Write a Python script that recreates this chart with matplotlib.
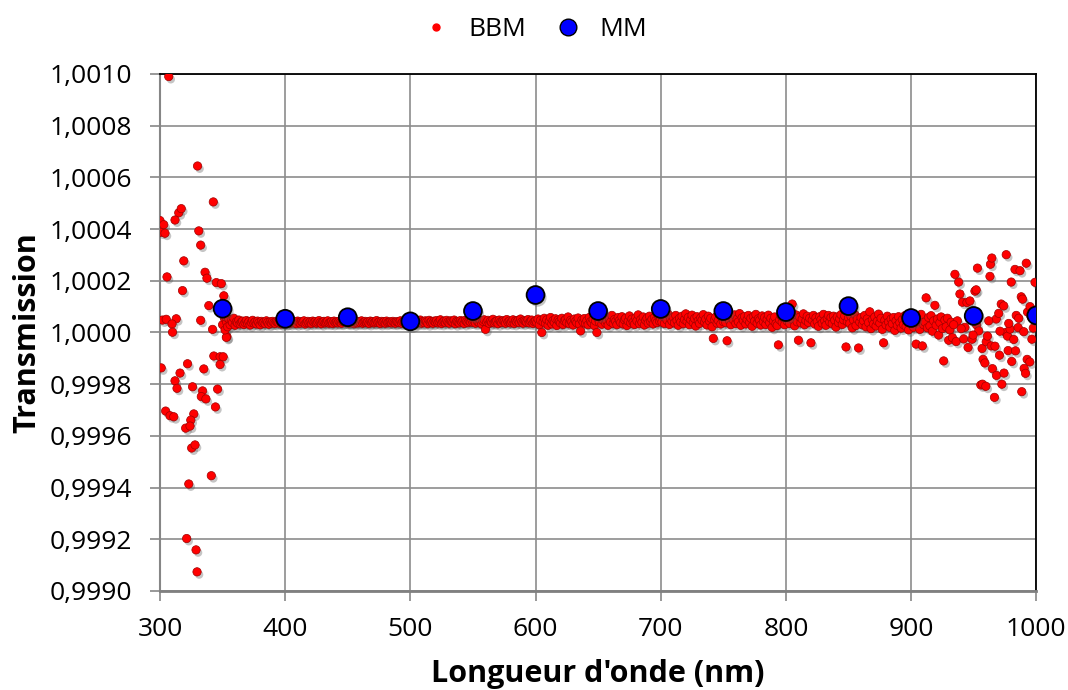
import numpy as np
import matplotlib
matplotlib.use("Agg")
import matplotlib.pyplot as plt
import matplotlib.patheffects as pe
from matplotlib.ticker import FuncFormatter, MultipleLocator

plt.rcParams['font.family'] = ['Open Sans', 'DejaVu Sans']

# BBM, noisy start of the spectrum (wavelength nm, offset from 1 in ppm)
bbm_head_wl = [300, 301, 303, 304, 307, 315, 317, 312, 330, 342.6, 331, 332.5, 319, 305.6,
               336, 337.5, 345, 349, 318, 351, 339, 302, 305, 313, 309.6, 332.5, 310, 342,
               353.5, 353, 343, 348, 350.5, 348, 301, 322, 335, 316, 312, 313.6, 326, 334,
               346, 333, 336.7, 344.3, 304.5, 308, 311, 327, 324.6, 320.5, 324, 325.3, 328,
               341, 323, 321.3, 328.8, 329.6, 350, 351.5, 352, 353.2, 354, 352.6]
bbm_head_val = [433, 388, 417, 384, 990, 463, 479, 435, 644, 505, 393, 338, 277, 215,
                233, 210, 193, 189, 162, 142, 104, 48, 51, 53, 33, 47, 1, 12,
                -16, -19, -91, -94, -94, -124, -137, -121, -141, -157, -187, -216, -210, -226,
                -219, -248, -257, -288, -304, -322, -326, -315, -339, -370, -362, -447, -435,
                -554, -586, -797, -841, -926, 30, 55, 10, 40, 22, 60]

# BBM, dense band, one point per nm from 355 to 930 (ppm above 1)
bbm_band_start = 355
bbm_band_val = [
    52, 30, 45, 38, 55, 28, 41, 36, 48, 33,   # 355
    40, 44, 31, 38, 46, 35, 42, 29, 39, 47,
    36, 41, 33, 44, 38, 30, 43, 37, 40, 34,
    45, 39, 32, 41, 36, 43, 38, 35, 42, 40,
    37, 44, 33, 39, 41, 36,                   # -> 400
    42, 38, 45, 35, 40, 43, 37, 41, 34, 44,   # 401
    39, 36, 42, 40, 45, 33, 38, 43, 37, 41,
    35, 44, 39, 42, 36, 40, 46, 38, 34, 41,
    43, 37, 40, 45, 36, 39, 42, 35, 44, 38,
    41, 37, 43, 39, 36, 42, 40, 45, 38, 41,
    36, 43, 39, 41, 34, 40, 44, 37, 42, 38,   # 451
    45, 36, 40, 43, 38, 41, 35, 44, 39, 42,
    37, 40, 46, 38, 41, 35, 43, 39, 42, 36,
    44, 38, 40, 41, 37, 43, 39, 36, 42, 40,
    38, 45, 36, 41, 39, 43, 37, 40, 42, 38,
    43, 37, 46, 40, 35, 44, 39, 48, 36, 42,   # 501
    38, 45, 41, 34, 47, 39, 43, 36, 44, 40,
    46, 37, 42, 49, 35, 41, 44, 38, 47, 40,
    36, 45, 42, 39, 48, 34, 43, 41, 37, 46,
    40, 44, 35, 47, 42, 38, 45, 41, 50, 39,
    44, 36, 48, 41, 38, 46, 33, 43, 49, 12,   # 551
    40, 47, 35, 44, 39, 51, 37, 42, 45, 34,
    48, 41, 38, 46, 43, 36, 50, 40, 44, 37,
    42, 49, 35, 45, 40, 47, 38, 52, 41, 36,
    46, 43, 39, 50, 37, 44, 48, 35, 42, 45,
    38, 52, 30, 47, 0, 41, 55, 35, 49, 28,    # 601
    44, 58, 33, 46, 39, 53, 27, 48, 42, 36,
    55, 31, 45, 50, 38, 60, 34, 47, 41, 29,
    52, 43, 37, 56, 32, 6, 48, 40, 54, 35,
    46, 30, 58, 42, 37, 51, 27, 44, 0, 53,
    39, 57, 32, 48, 62, 36, 44, 28, 53, 41,   # 651
    66, 35, 50, 43, 30, 58, 46, 38, 61, 33,
    49, 55, 27, 44, 64, 37, 52, 40, 31, 57,
    45, 68, 34, 50, 39, 60, 29, 47, 55, 36,
    63, 42, 51, 33, 58, 46, 38, 65, 44, 53,
    40, 62, 35, 56, 48, 70, 31, 52, 44, 59,   # 701
    37, 66, 46, 28, 55, 41, 63, 34, 50, 72,
    43, 58, 30, 49, 67, 38, 54, 25, 61, 45,
    35, 57, 48, 69, 40, 52, 29, 63, 44, 55,
    22, -23, 50, 60, 36, 47, 71, 33, 58, 42,
    56, 38, -32, 64, 45, 30, 59, 49, 68, 35,  # 751
    52, 41, 73, 28, 57, 46, 62, 33, 50, 66,
    39, 55, 24, 61, 44, 70, 36, 53, 47, 29,
    64, 42, 58, 31, 51, 67, 38, 55, 20, 45,
    60, 34, 27, -48, 49, 65, 40, 56, 30, 53,
    44, 62, 35, 57, 110, 48, 26, 68, 41, -30, # 801
    59, 37, 52, 72, 30, 46, 63, 39, 55, -40,
    48, 66, 33, 57, 42, 24, 61, 50, 36, 70,
    45, 28, 55, 66, 40, 58, 34, 63, 47, 21,
    60, 38, 53, 69, 31, 49, 64, -56, 42, 57,
    35, 62, 18, 48, 70, 27, 52, -60, 40, 58,  # 851
    30, 45, 66, 22, 53, 38, 80, 15, 49, 33,
    60, 25, 44, 71, 36, 55, 12, -40, 47, 29,
    63, 40, 20, 52, 34, 58, 8, 45, 27, 61,
    38, 17, 50, 30, 65, 23, 42, 10, 54, 35,
    48, 20, 62, -45, 35, 55, 12, 70, -52, 30, # 901
    40, 134, 18, 58, 25, 65, 5, 45, 105, 28,
    52, -10, 38, 60, 15, -110, 48, 22, 55, -30,
]

# BBM, noisy end of the spectrum
bbm_tail_wl = [931, 932, 933, 935, 936, 937, 938, 939, 941, 942, 943, 944.6, 945.5, 947,
               948.7, 951, 952, 952.3, 953, 954, 955.7, 956.7, 957, 957.5, 958.9, 959.7,
               960, 961, 963, 963.4, 964, 964.5, 965, 966.6, 967, 968, 968.2, 970, 970.6,
               972, 972.5, 974, 974.2, 975.6, 976, 977, 977.5, 979, 980, 980.4, 982, 983,
               983.4, 984, 985.5, 986, 987, 988, 988.4, 989, 990, 990.3, 991.4, 992, 992.7,
               993, 994.8, 995, 996.5, 997.6, 999, 934, 940, 949.5, 962, 971, 978, 996]
bbm_tail_val = [10, 40, -20, 225, -35, 45, 195, 149, 117, -25, 20, 116, -58, 122,
                -26, 160, 165, 29, 249, 6, -203, -62, -200, -104, -118, -208,
                -36, -14, 217, 264, -52, 288, -140, -251, -53, 52, -166, 74, -88,
                110, -200, 103, -157, 0, 301, -14, -70, 13, 195, -112, -27, 244,
                -71, 66, 19, 55, 239, 138, -229, 129, 3, -139, -158, 268, -104,
                79, -114, 100, -26, 17, 194, 30, 15, -10, 45, 5, 35, 60]

# MM, measured every 50 nm
mm_wl = [350, 400, 450, 500, 550, 600, 650, 700, 750, 800, 850, 900, 950, 1000]
mm_val = [1.000092, 1.000053, 1.000059, 1.000043, 1.000083, 1.000145, 1.000083,
          1.000091, 1.000083, 1.000079, 1.000102, 1.000056, 1.000064, 1.000066]

bbm_wl = np.concatenate([bbm_head_wl,
                         bbm_band_start + np.arange(len(bbm_band_val)),
                         bbm_tail_wl])
bbm_val = 1 + np.concatenate([bbm_head_val, bbm_band_val, bbm_tail_val]) * 1e-6

fig = plt.figure(figsize=(10.68, 6.9), dpi=100)
ax = fig.add_axes([0.1498, 0.1435, 0.8205, 0.7493])

shadow = [pe.SimplePatchShadow(offset=(1.5, -2), shadow_rgbFace='0.35', alpha=0.35), pe.Normal()]
sc1 = ax.scatter(bbm_wl, bbm_val, s=36, color='#ff0000', edgecolors='#a00000',
                 linewidths=0.5, zorder=3, label='BBM')
sc1.set_path_effects(shadow)
sc2 = ax.scatter(mm_wl, mm_val, s=165, color='#0000ff', edgecolors='black',
                 linewidths=1.3, zorder=4, label='MM')
sc2.set_path_effects(shadow)

ax.set_xlim(300, 1000)
ax.set_ylim(0.9990, 1.0010)
ax.xaxis.set_major_locator(MultipleLocator(100))
ax.yaxis.set_major_locator(MultipleLocator(0.0002))
ax.yaxis.set_major_formatter(FuncFormatter(lambda v, p: f"{v:.4f}".replace('.', ',')))
ax.grid(True, color='#8c8c8c', linewidth=1.2)
ax.set_axisbelow(True)

for s in ['top', 'right']:
    ax.spines[s].set_color('black')
    ax.spines[s].set_linewidth(1.3)
ax.spines['left'].set_color('#868686')
ax.spines['left'].set_linewidth(1.5)
ax.spines['bottom'].set_color('#808080')
ax.spines['bottom'].set_linewidth(2)

ax.tick_params(axis='both', labelsize=19, colors='#868686', labelcolor='black',
               length=7, width=1.2, direction='out')
ax.tick_params(axis='y', pad=13)
ax.tick_params(axis='x', pad=12)

ax.set_xlabel("Longueur d'onde (nm)", fontsize=22, fontweight='bold', labelpad=12)
ax.set_ylabel("Transmission", fontsize=22, fontweight='bold', labelpad=5)

leg = fig.legend(handles=[
    plt.Line2D([], [], marker='o', linestyle='', markersize=5, color='#ff0000'),
    plt.Line2D([], [], marker='o', linestyle='', markersize=12,
               markerfacecolor='#0000ff', markeredgecolor='black')],
    labels=['BBM', 'MM'], loc='upper center', bbox_to_anchor=(0.5, 1.01), ncol=2,
    frameon=False, fontsize=19, handletextpad=0.6, columnspacing=1.0, handlelength=1.2)

fig.savefig('out.png', dpi=100)
